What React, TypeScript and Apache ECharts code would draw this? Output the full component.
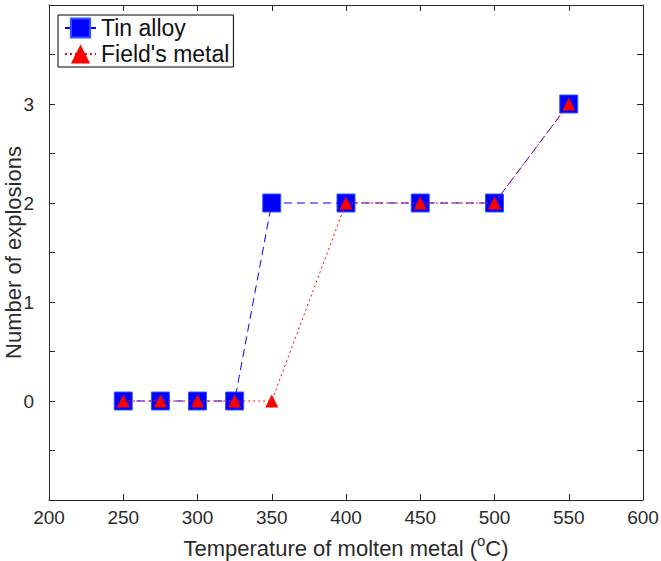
import React, { useEffect, useRef } from "react";
import * as echarts from "echarts";

const temperatures = [250, 275, 300, 325, 350, 400, 450, 500, 550];
const tinAlloy = [0, 0, 0, 0, 2, 2, 2, 2, 3];
const fieldsMetal = [0, 0, 0, 0, 0, 2, 2, 2, 3];
const yLabelValues = [0, 1, 2, 3];

const FONT = "'Liberation Sans', Arial, Helvetica, sans-serif";
const AXIS_COLOR = "#262626";
const TEXT_COLOR = "#2b2b2b";

export default function App() {
  const ref = useRef<HTMLDivElement>(null);
  useEffect(() => {
    if (!ref.current) return;
    const chart = echarts.init(ref.current, undefined, { renderer: "svg" });
    const tickStyle = { show: true, inside: true, length: 6, lineStyle: { color: AXIS_COLOR } };
    const lineStyle = { show: true, onZero: false, lineStyle: { color: AXIS_COLOR, width: 1 } };
    chart.setOption({
      animation: false,
      backgroundColor: "#fff",
      textStyle: { fontFamily: FONT },
      grid: { left: 49, right: 18, top: 5, bottom: 61, containLabel: false, outerBoundsMode: "none" },
      legend: {
        left: 58,
        top: 15,
        orient: "vertical",
        borderColor: "#000",
        borderWidth: 1,
        padding: [0, 4, 0, 6],
        itemGap: 0,
        itemWidth: 31,
        itemHeight: 24,
        backgroundColor: "#fff",
        textStyle: { fontSize: 23, lineHeight: 26, color: "#111", fontFamily: FONT },
        data: ["Tin alloy", "Field's metal"],
      },
      xAxis: [
        {
          type: "value",
          min: 200,
          max: 600,
          interval: 50,
          name: "{n|Temperature of molten metal (}{sup|o}{n|C)}",
          nameLocation: "middle",
          nameGap: 33,
          nameMoveOverlap: false,
          nameTextStyle: {
            fontSize: 22,
            color: TEXT_COLOR,
            fontFamily: FONT,
            rich: {
              n: { fontSize: 22, lineHeight: 26, color: TEXT_COLOR, fontFamily: FONT, verticalAlign: "bottom" },
              sup: { fontSize: 15, lineHeight: 14, color: TEXT_COLOR, fontFamily: FONT, verticalAlign: "top" },
            },
          },
          axisLine: lineStyle,
          axisTick: tickStyle,
          axisLabel: { fontSize: 19, color: TEXT_COLOR, margin: 8, fontFamily: FONT },
          splitLine: { show: false },
        },
        {
          type: "value",
          position: "top",
          min: 200,
          max: 600,
          interval: 50,
          axisLine: lineStyle,
          axisTick: tickStyle,
          axisLabel: { show: false },
          splitLine: { show: false },
        },
      ],
      yAxis: [
        {
          type: "value",
          min: -1,
          max: 4,
          interval: 0.5,
          name: "Number of explosions",
          nameLocation: "middle",
          nameGap: 25,
          nameMoveOverlap: false,
          nameTextStyle: { fontSize: 22, color: TEXT_COLOR, fontFamily: FONT },
          axisLine: lineStyle,
          axisTick: tickStyle,
          axisLabel: {
            fontSize: 19,
            color: TEXT_COLOR,
            margin: 15,
            fontFamily: FONT,
            formatter: (v: number) => {
              const r = Math.round(v * 100) / 100;
              return yLabelValues.includes(r) ? String(r) : "";
            },
          },
          splitLine: { show: false },
        },
        {
          type: "value",
          position: "right",
          min: -1,
          max: 4,
          interval: 0.5,
          axisLine: lineStyle,
          axisTick: tickStyle,
          axisLabel: { show: false },
          splitLine: { show: false },
        },
      ],
      series: [
        {
          name: "Tin alloy",
          type: "line",
          data: temperatures.map((t, i) => [t, tinAlloy[i]]),
          symbol: "rect",
          symbolSize: 18,
          itemStyle: { color: "#0000ff", borderColor: "#3355ff", borderWidth: 1 },
          lineStyle: { color: "#0000ff", width: 1, type: [8, 5] },
          z: 2,
        },
        {
          name: "Field's metal",
          type: "line",
          data: temperatures.map((t, i) => [t, fieldsMetal[i]]),
          symbol: "triangle",
          symbolSize: 13,
          itemStyle: { color: "#ff0000" },
          lineStyle: { color: "#ff0000", width: 1, type: [2, 3] },
          z: 3,
        },
      ],
    });
    return () => chart.dispose();
  }, []);
  return <div ref={ref} style={{ width: 661, height: 561, position: "absolute", left: 0, top: 0 }} />;
}
